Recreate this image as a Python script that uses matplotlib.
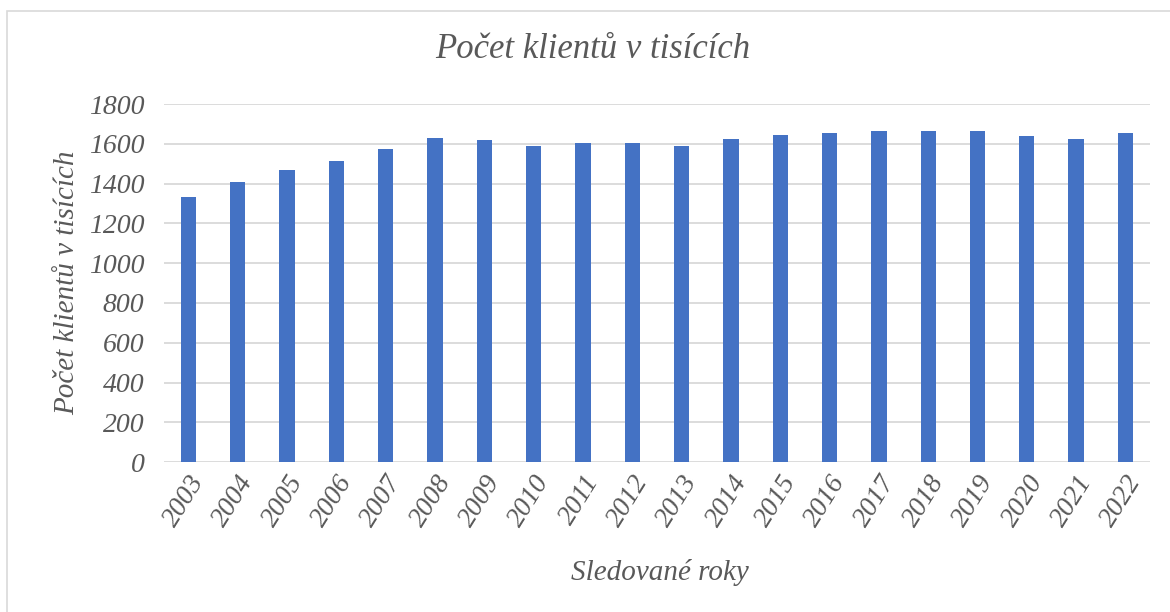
import matplotlib.pyplot as plt
from matplotlib.patches import Rectangle

roky = ["2003", "2004", "2005", "2006", "2007", "2008", "2009", "2010", "2011", "2012",
        "2013", "2014", "2015", "2016", "2017", "2018", "2019", "2020", "2021", "2022"]
klienti = [1331, 1409, 1467, 1516, 1576, 1627, 1619, 1588, 1602, 1602,
           1587, 1624, 1645, 1654, 1662, 1666, 1662, 1640, 1624, 1652]

SEDA = "#595959"
plt.rcParams["font.family"] = ["Liberation Serif", "DejaVu Serif"]
plt.rcParams["font.style"] = "italic"

fig = plt.figure(figsize=(11.7, 6.12), dpi=100)
ax = fig.add_axes([0.140, 0.245, 0.843, 0.585])

# rámeček grafu (jen horní a levá hrana jsou vidět)
fig.patches.append(Rectangle((7 / 1170, -0.1), 1.2, 1 - 11 / 612 + 0.1,
                             transform=fig.transFigure, fill=False,
                             edgecolor="#d9d9d9", linewidth=1.2))

x = range(len(roky))
ax.bar(x, klienti, width=0.31, color="#4472C4", zorder=3)

ax.set_ylim(0, 1800)
ax.set_xlim(-0.5, len(roky) - 0.5)
ax.set_yticks(range(0, 1801, 200))
ax.grid(axis="y", color="#d9d9d9", linewidth=1.3, zorder=0)
for s in ax.spines.values():
    s.set_visible(False)
ax.tick_params(length=0, colors=SEDA, labelsize=20)
ax.tick_params(axis="y", pad=14)
ax.tick_params(axis="x", pad=6)
ax.set_xticks(list(x))
ax.set_xticklabels(roky, rotation=58, ha="right", rotation_mode="anchor")

fig.text(593 / 1170, 1 - 50 / 612, "Počet klientů v tisících", fontsize=25,
         color=SEDA, ha="center", va="center")
fig.text(660 / 1170, 1 - 572 / 612, "Sledované roky", fontsize=21,
         color=SEDA, ha="center", va="center")
ax.set_ylabel("Počet klientů v tisících", fontsize=21, color=SEDA, labelpad=6)

fig.savefig("out.png", dpi=100)
